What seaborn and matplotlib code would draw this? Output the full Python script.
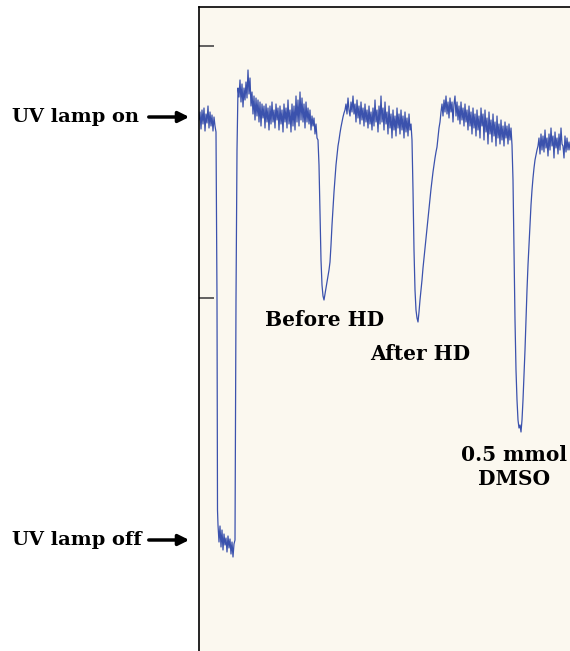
import matplotlib
matplotlib.use("Agg")
import matplotlib.pyplot as plt
import seaborn as sns
import pandas as pd

# chart-recorder trace (position along chart, pen deflection downward)
t = [199, 200, 201, 202, 203, 204, 205, 206, 207, 208, 209, 210, 211, 212, 213, 214, 215, 216,
     217, 217.5, 218, 219, 220, 221, 222, 223, 224, 225, 226, 227, 228, 229, 230, 231, 232, 233, 234, 235,
     236, 237, 238,
     239, 240, 241, 242, 243, 244, 245, 246, 247, 248, 249, 250, 251, 252, 253, 254, 255, 256, 257, 258,
     259, 260, 261, 262, 263, 264, 265, 266, 267, 268, 269, 270, 271, 272, 273, 274, 275, 276, 277, 278,
     279, 280, 281, 282, 283, 284, 285, 286, 287, 288, 289, 290, 291, 292, 293, 294, 295, 296, 297, 298,
     299, 300, 301, 302, 303, 304, 305, 306, 307, 308, 309, 310, 311, 312, 313, 314, 315, 316, 317,
     318, 319, 320, 321, 322, 323, 324, 325, 326, 327, 328, 329, 330, 331, 332, 333, 334, 335, 336, 337,
     338, 339, 340, 341, 342, 343, 344, 345,
     346, 347, 348, 349, 350, 351, 352, 353, 354, 355, 356, 357, 358, 359, 360, 361, 362, 363, 364, 365,
     366, 367, 368, 369, 370, 371, 372, 373, 374, 375, 376, 377, 378, 379, 380, 381, 382, 383, 384, 385,
     386, 387, 388, 389, 390, 391, 392, 393, 394, 395, 396, 397, 398, 399, 400, 401, 402, 403, 404, 405,
     406, 407, 408, 409, 410, 411, 412,
     413, 414, 415, 416, 417, 418, 419, 420, 421, 422, 423, 424, 425, 426, 427, 428, 429, 430, 431, 432,
     433, 434, 435, 436, 437, 438, 439, 440, 441,
     442, 443, 444, 445, 446, 447, 448, 449, 450, 451, 452, 453, 454, 455, 456, 457, 458, 459, 460, 461,
     462, 463, 464, 465, 466, 467, 468, 469, 470, 471, 472, 473, 474, 475, 476, 477, 478, 479, 480, 481,
     482, 483, 484, 485, 486, 487, 488, 489, 490, 491, 492, 493, 494, 495, 496, 497, 498, 499, 500, 501,
     502, 503, 504, 505, 506, 507, 508, 509, 510, 511, 512,
     513, 514, 515, 516, 517, 518, 519, 520, 521, 522, 523, 524, 525, 526, 527, 528, 529, 530, 531, 532,
     533, 534, 535, 536, 537, 538,
     539, 540, 541, 542, 543, 544, 545, 546, 547, 548, 549, 550, 551, 552, 553, 554, 555, 556, 557, 558,
     559, 560, 561, 562, 563, 564, 565, 566, 567, 568, 569, 570]

pen = [120, 112, 129, 110, 124, 108, 131, 114, 123, 106, 128, 112, 126, 115, 131, 117, 126, 132,
       300, 510, 525, 542, 526, 547, 530, 550, 534, 545, 538, 552, 536, 548, 539, 554, 542, 557, 544, 540,
       300, 150, 88,
       97, 80, 102, 84, 107, 88, 100, 82, 98, 70, 94, 78, 106, 92, 114, 96, 120, 98, 116, 100,
       122, 102, 126, 104, 118, 106, 128, 104, 122, 108, 130, 106, 124, 102, 122, 110, 128, 104, 120, 108,
       130, 106, 124, 110, 132, 104, 122, 108, 128, 100, 124, 110, 132, 104, 126, 106, 130, 96, 122, 100,
       126, 92, 120, 98, 122, 104, 128, 102, 122, 108, 124, 110, 130, 116, 126, 118, 134, 124, 138,
       140, 165, 210, 260, 285, 296, 300, 294, 288, 282, 276, 270, 262, 245, 225, 208, 192, 178, 165, 155,
       146, 140, 133, 127, 122, 117, 113, 110,
       104, 114, 98, 110, 116, 102, 112, 96, 114, 104, 122, 100, 118, 106, 124, 102, 120, 108, 126, 104,
       122, 110, 128, 106, 124, 112, 130, 108, 126, 100, 122, 110, 132, 106, 124, 96, 122, 108, 130, 102,
       124, 112, 134, 106, 128, 114, 138, 110, 130, 116, 136, 108, 128, 114, 134, 110, 130, 116, 138, 112,
       132, 118, 136, 114, 130, 124, 140,
       190, 250, 290, 310, 318, 322, 312, 300, 290, 280, 268, 258, 248, 238, 228, 218, 208, 198, 189, 180,
       172, 165, 158, 152, 147, 138, 128, 122, 112,
       104, 116, 100, 112, 96, 114, 102, 118, 98, 112, 102, 122, 104, 96, 116, 102, 120, 106, 124, 102,
       120, 108, 126, 104, 122, 110, 130, 106, 126, 112, 134, 108, 128, 114, 136, 110, 130, 116, 138, 108,
       126, 114, 140, 110, 132, 118, 144, 112, 134, 120, 142, 114, 136, 122, 146, 116, 138, 124, 144, 120,
       140, 126, 146, 122, 138, 126, 144, 124, 140, 128, 145,
       180, 250, 320, 370, 400, 420, 428, 425, 432, 420, 400, 375, 350, 320, 290, 265, 245, 225, 205, 190,
       178, 168, 160, 155, 150, 146,
       138, 154, 134, 150, 136, 152, 130, 148, 138, 156, 134, 150, 128, 146, 136, 158, 132, 148, 138, 154,
       134, 150, 128, 144, 146, 158, 136, 152, 138, 150, 142, 150]

# annotations
dip_labels = ["Before HD", "After HD", "0.5 mmol\nDMSO"]
dip_label_pos = [(325, 320), (420, 354), (514, 467)]
lamp_labels = ["UV lamp on", "UV lamp off"]
lamp_levels = [117, 540]
tick_levels = [46, 298]

trace = pd.DataFrame({"t": t, "pen": pen})

sns.set_style("white")
plt.rcParams["font.family"] = ["DejaVu Serif"]
plt.rcParams["text.color"] = "black"

fig = plt.figure(figsize=(5.7, 6.51), dpi=100)
ax = fig.add_axes([199 / 570, 0, 371 / 570, 644 / 651])
ax.set_facecolor("#fbf8ef")

sns.lineplot(data=trace, x="t", y="pen", sort=False, estimator=None,
             color="#3b52ad", lw=0.9, ax=ax)

ax.set_xlim(199, 570)
ax.set_ylim(651, 7)
ax.set_xticks([])
ax.set_yticks(tick_levels)
ax.tick_params(axis="y", direction="in", length=11, width=1.3, color="#555555",
               labelleft=False, left=True)
ax.set_xlabel("")
ax.set_ylabel("")
for side in ["right", "bottom"]:
    ax.spines[side].set_visible(False)
for side in ["left", "top"]:
    ax.spines[side].set_color("black")
    ax.spines[side].set_linewidth(1.2)

for lab, (x, y) in zip(dip_labels, dip_label_pos):
    ax.text(x, y, lab, ha="center", va="center", fontsize=14.5, fontweight="bold",
            color="black", linespacing=1.2, clip_on=False)

for lab, y in zip(lamp_labels, lamp_levels):
    ax.annotate("", xy=(192, y), xytext=(146, y), annotation_clip=False,
                arrowprops=dict(arrowstyle="-|>", lw=2.5, color="black", mutation_scale=16))
    ax.text(12, y, lab, ha="left", va="center", fontsize=14, fontweight="bold",
            color="black", clip_on=False)

fig.savefig("out.png", dpi=100, facecolor="white")
